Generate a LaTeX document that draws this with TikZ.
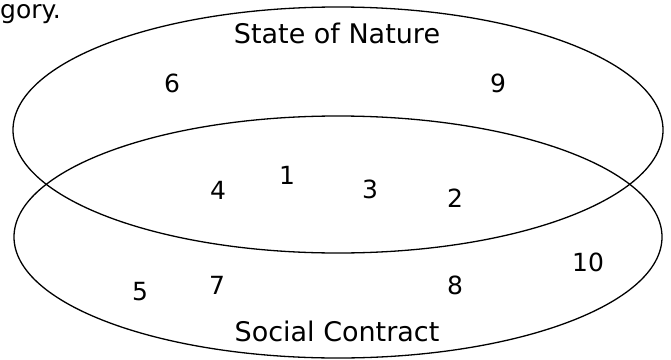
\documentclass[tikz,border=0pt]{standalone}
\usepackage{fontspec}
\setmainfont{DejaVu Sans}
\usepackage{tikz}
\usetikzlibrary{positioning}

\begin{document}
\begin{tikzpicture}[x=1pt,y=-1pt,
  venn/.style={line width=1.3pt},
  num/.style={inner sep=0pt,font=\fontsize{25}{28}\selectfont},
  setname/.style={inner sep=0pt,font=\fontsize{27}{30}\selectfont}]
\useasboundingbox (0,0) rectangle (671,359);
\draw[venn] (338,130) ellipse [x radius=325,y radius=123];
\draw[venn] (338,237) ellipse [x radius=324,y radius=121];
\node[num,anchor=west] (cut) at (0,14) {gory.};
\node[setname] (nature) at (337,33) {State of Nature};
\node[setname] (contract) at (337,331) {Social Contract};
\node[num] (n6) at (172,83) {6};
\node[num] (n9) at (498,83) {9};
\node[num] (n1) at (287,175) {1};
\node[num] (n4) at (218,190) {4};
\node[num] (n3) at (370,189) {3};
\node[num] (n2) at (455,198) {2};
\node[num] (n5) at (140,292) {5};
\node[num] (n7) at (217,285) {7};
\node[num] (n8) at (455,285) {8};
\node[num] (n10) at (588,262) {10};
\end{tikzpicture}
\end{document}
